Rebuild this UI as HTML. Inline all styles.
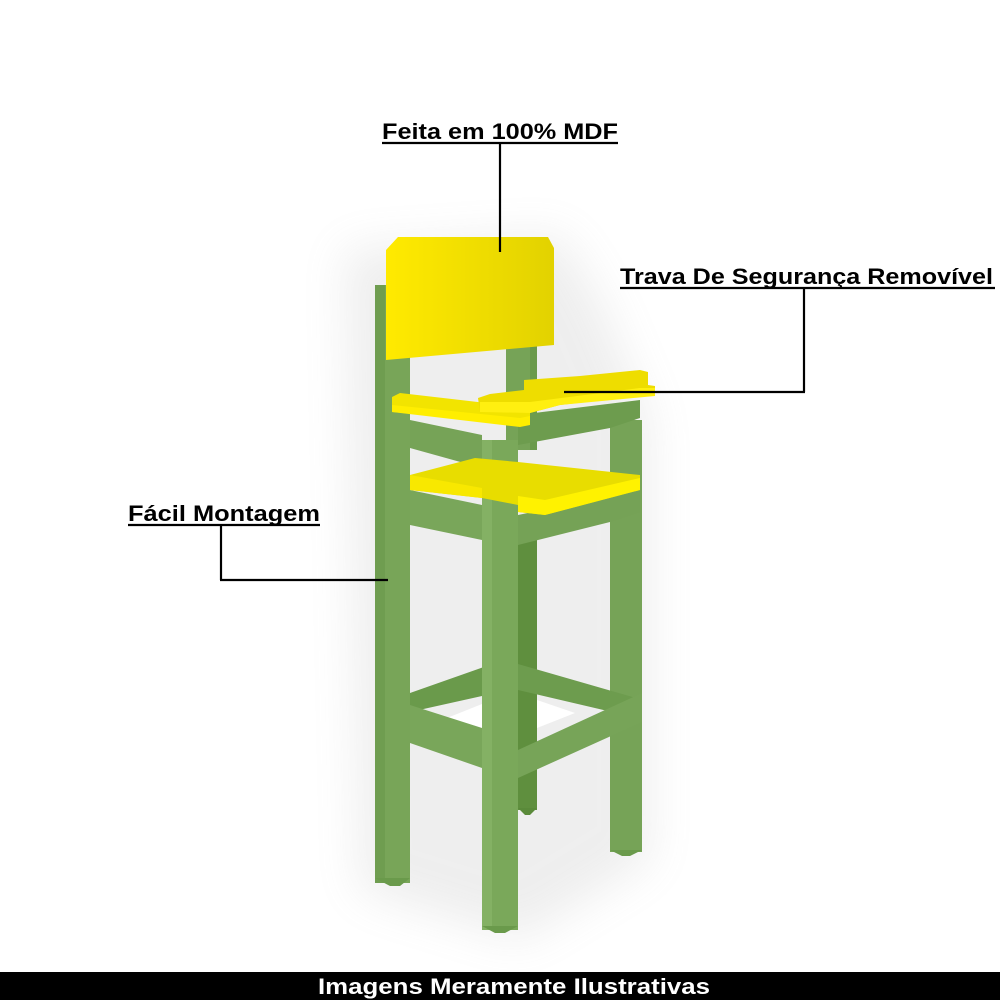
<!DOCTYPE html>
<html><head><meta charset="utf-8"><style>
html,body{margin:0;padding:0;background:#fff;}
svg{display:block}
text{font-family:"Liberation Sans",sans-serif;font-weight:bold;}
</style></head><body>
<svg width="1000" height="1000" viewBox="0 0 1000 1000" xmlns="http://www.w3.org/2000/svg">
<defs>
<filter id="blur" x="-50%" y="-50%" width="200%" height="200%"><feGaussianBlur stdDeviation="22"/></filter>
<linearGradient id="yb" x1="0" y1="0" x2="1" y2="0"><stop offset="0" stop-color="#ffea00"/><stop offset="1" stop-color="#e2d200"/></linearGradient>
</defs>
<rect width="1000" height="1000" fill="#fff"/>
<!-- shadow -->
<g filter="url(#blur)" opacity="0.16">
<polygon points="345,250 560,235 600,300 650,420 650,860 520,940 360,890" fill="#999"/>
</g>
<!-- back right leg -->
<rect x="518" y="540" width="19" height="270" fill="#5f8f3e"/>
<polygon points="518,808 537,808 530,815 525,815" fill="#5a8a3a"/>
<!-- back left upper leg behind backrest -->
<rect x="506" y="340" width="31" height="110" fill="#76a357"/>
<rect x="530" y="340" width="7" height="110" fill="#6a9a4b"/>
<!-- right leg -->
<rect x="610" y="420" width="32" height="432" fill="#76a357"/>
<polygon points="610,850 642,850 630,856 622,856" fill="#6a9a4b"/>
<!-- right arm rail -->
<polygon points="518,415 640,400 640,418 610,428 518,445" fill="#6d9c4e"/>
<!-- back stretchers -->
<polygon points="410,693 518,655 518,688 410,712" fill="#6a9a4b"/>
<polygon points="518,664 636,698 612,712 518,690" fill="#6d9c4e"/>
<polygon points="447,718 482,704 482,728" fill="#fff"/>
<polygon points="537,700 575,713 537,728" fill="#fff"/>
<!-- front stretchers -->
<polygon points="410,705 482,728 482,768 410,743" fill="#79a65a"/>
<polygon points="518,750 642,693 642,722 518,778" fill="#77a458"/>
<!-- left leg -->
<rect x="375" y="285" width="35" height="598" fill="#78a558"/>
<rect x="375" y="285" width="10" height="598" fill="#6f9d50"/>
<polygon points="375,878 410,878 400,886 390,886" fill="#6a9a4b"/>
<!-- left arm rail -->
<polygon points="410,420 482,435 482,468 410,448" fill="#76a357"/>
<!-- left seat apron -->
<polygon points="410,490 482,505 482,540 410,525" fill="#79a65a"/>
<!-- right seat apron -->
<polygon points="518,515 640,490 640,512 610,522 518,545" fill="#75a256"/>
<!-- front leg -->
<rect x="482" y="440" width="36" height="490" fill="#7aa85a"/>
<rect x="482" y="440" width="10" height="490" fill="#84b164"/>
<polygon points="482,926 518,926 505,933 495,933" fill="#6a9a4b"/>
<!-- seat -->
<polygon points="410,475 475,458 518,462 640,475 640,490 545,515 518,512 518,505 482,498 410,490" fill="#e8dd00"/>
<polygon points="410,475 482,488 482,498 410,490" fill="#f8e800"/>
<polygon points="518,496 545,500 640,478 640,490 545,515 518,512" fill="#fff200"/>
<!-- backrest -->
<polygon points="386,250 398,237 548,237 554,248 554,345 386,360" fill="url(#yb)"/>
<!-- left armrest -->
<polygon points="392,397 400,393 530,408 530,418 522,424 392,412" fill="#f2e400"/>
<polygon points="392,405 520,418 530,416 530,425 520,427 392,412" fill="#ffee00"/>
<!-- trava -->
<polygon points="524,380 580,376 640,370 648,372 648,385 655,386 655,395 640,396 560,405 530,413 480,412 478,398 490,394 524,390" fill="#eedd00"/>
<polygon points="480,402 530,402 640,388 655,388 655,396 560,405 530,413 480,412" fill="#ffef10"/>
<!-- connectors -->
<g stroke="#000" stroke-width="2.2" fill="none">
<line x1="382" y1="143" x2="618" y2="143"/>
<line x1="500" y1="143" x2="500" y2="252"/>
<line x1="620" y1="288" x2="995" y2="288"/>
<line x1="804" y1="288" x2="804" y2="392"/>
<line x1="564" y1="392" x2="805" y2="392"/>
<line x1="128" y1="525" x2="320" y2="525"/>
<line x1="221" y1="525" x2="221" y2="580"/>
<line x1="220" y1="580" x2="388" y2="580"/>
</g>
<text x="382" y="139" font-size="22" textLength="236" lengthAdjust="spacingAndGlyphs">Feita em 100% MDF</text>
<text x="620" y="284" font-size="22" textLength="373" lengthAdjust="spacingAndGlyphs">Trava De Segurança Removível</text>
<text x="128" y="521" font-size="22" textLength="192" lengthAdjust="spacingAndGlyphs">Fácil Montagem</text>
<rect x="0" y="972" width="1000" height="28" fill="#000"/>
<text x="318" y="994" font-size="22" fill="#fff" textLength="392" lengthAdjust="spacingAndGlyphs">Imagens Meramente Ilustrativas</text>
</svg>
</body></html>
